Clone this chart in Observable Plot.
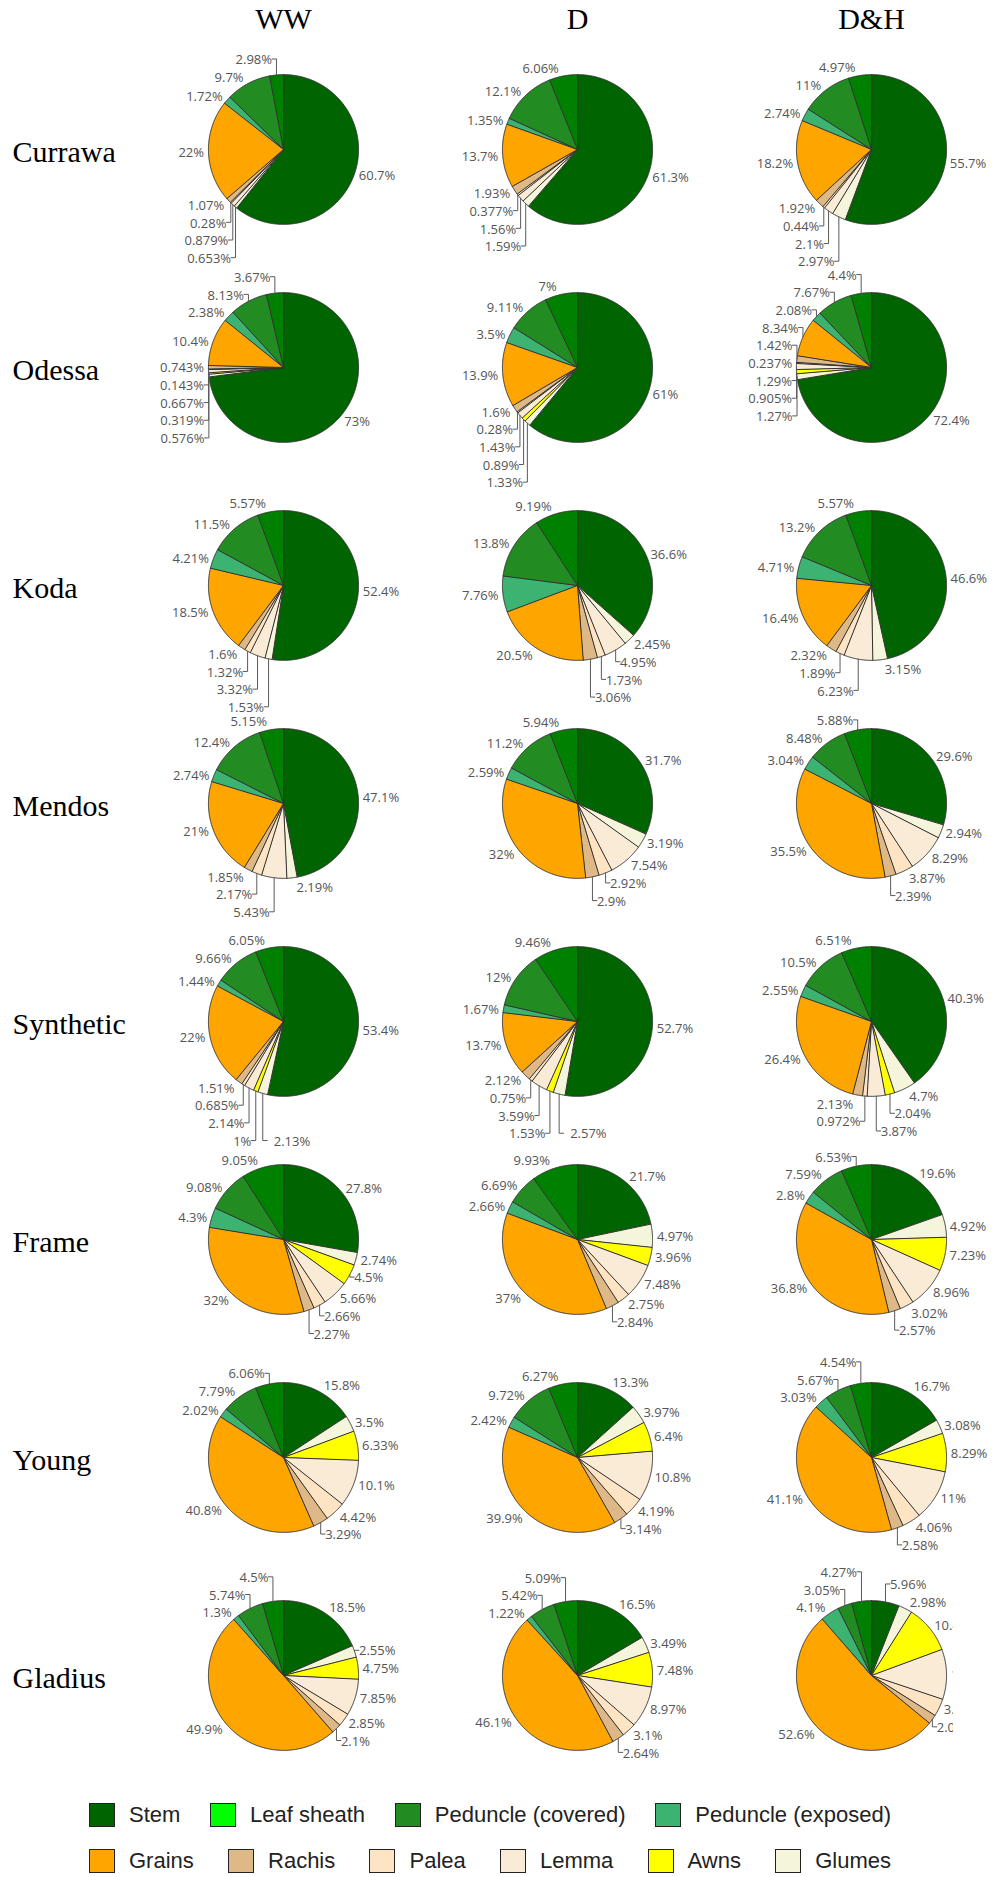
<!DOCTYPE html>
<html>
<head>
<meta charset="utf-8">
<script src="https://cdn.jsdelivr.net/npm/d3@7"></script>
<script src="https://cdn.jsdelivr.net/npm/@observablehq/plot@0.6"></script>
<style>
  body { margin: 0; background: #fff; }
  #chart { width: 993px; }
  .legend { font-family: "Liberation Sans", Arial, sans-serif; font-size: 22px; color: #222; padding-top: 17px; }
  .lrow { display: flex; justify-content: space-between; align-items: center; width: 802px; margin-left: 89px; height: 24px; margin-bottom: 22px; }
  .item { display: flex; align-items: center; white-space: nowrap; }
  .sw { display: inline-block; box-sizing: border-box; width: 26px; height: 24px; border: 1.5px solid #222; margin-right: 14px; }
</style>
</head>
<body>
<div id="chart"></div>
<script>
// ---------- data ----------
const cultivars = ["Currawa", "Odessa", "Koda", "Mendos", "Synthetic", "Frame", "Young", "Gladius"];
const treatments = ["WW", "D", "D&H"];
const parts = ["Stem", "Leaf sheath", "Peduncle (covered)", "Peduncle (exposed)", "Grains", "Rachis", "Palea", "Lemma", "Awns", "Glumes"];
const sliceColors = ["#006400", "#008000", "#228b22", "#3cb371", "#ffa500", "#deb887", "#ffe4c4", "#faebd7", "#ffff00", "#f5f5dc"];
const legendColors = ["#006400", "#00ff00", "#228b22", "#3cb371", "#ffa500", "#deb887", "#ffe4c4", "#faebd7", "#ffff00", "#f5f5dc"];
// clockwise drawing order, starting at 12 o'clock
const sliceOrder = ["Stem", "Glumes", "Awns", "Lemma", "Palea", "Rachis", "Grains", "Peduncle (exposed)", "Peduncle (covered)", "Leaf sheath"];

// percentages in `parts` order; rows: WW, D, D&H
const Currawa = [
  [60.7, 2.98, 9.7, 1.72, 22, 1.07, 0.28, 0.879, 0, 0.653],
  [61.3, 6.06, 12.1, 1.35, 13.7, 1.93, 0.377, 1.56, 0, 1.59],
  [55.7, 4.97, 11, 2.74, 18.2, 1.92, 0.44, 2.1, 0, 2.97]
];
const Odessa = [
  [73, 3.67, 8.13, 2.38, 10.4, 0.743, 0.143, 0.667, 0.319, 0.576],
  [61, 7, 9.11, 3.5, 13.9, 1.6, 0.28, 1.43, 0.89, 1.33],
  [72.4, 4.4, 7.67, 2.08, 8.34, 1.42, 0.237, 1.29, 0.905, 1.27]
];
const Koda = [
  [52.4, 5.57, 11.5, 4.21, 18.5, 1.6, 1.32, 3.32, 0, 1.53],
  [36.6, 9.19, 13.8, 7.76, 20.5, 3.06, 1.73, 4.95, 0, 2.45],
  [46.6, 5.57, 13.2, 4.71, 16.4, 2.32, 1.89, 6.23, 0, 3.15]
];
const Mendos = [
  [47.1, 5.15, 12.4, 2.74, 21, 1.85, 2.17, 5.43, 0, 2.19],
  [31.7, 5.94, 11.2, 2.59, 32, 2.9, 2.92, 7.54, 0, 3.19],
  [29.6, 5.88, 8.48, 3.04, 35.5, 2.39, 3.87, 8.29, 0, 2.94]
];
const Synthetic = [
  [53.4, 6.05, 9.66, 1.44, 22, 1.51, 0.685, 2.14, 1, 2.13],
  [52.7, 9.46, 12, 1.67, 13.7, 2.12, 0.75, 3.59, 1.53, 2.57],
  [40.3, 6.51, 10.5, 2.55, 26.4, 2.13, 0.972, 3.87, 2.04, 4.7]
];
const Frame = [
  [27.8, 9.05, 9.08, 4.3, 32, 2.27, 2.66, 5.66, 4.5, 2.74],
  [21.7, 9.93, 6.69, 2.66, 37, 2.84, 2.75, 7.48, 3.96, 4.97],
  [19.6, 6.53, 7.59, 2.8, 36.8, 2.57, 3.02, 8.96, 7.23, 4.92]
];
const Young = [
  [15.8, 6.06, 7.79, 2.02, 40.8, 3.29, 4.42, 10.1, 6.33, 3.5],
  [13.3, 6.27, 9.72, 2.42, 39.9, 3.14, 4.19, 10.8, 6.4, 3.97],
  [16.7, 4.54, 5.67, 3.03, 41.1, 2.58, 4.06, 11, 8.29, 3.08]
];
const Gladius = [
  [18.5, 4.5, 5.74, 1.3, 49.9, 2.1, 2.85, 7.85, 4.75, 2.55],
  [16.5, 5.09, 5.42, 1.22, 46.1, 2.64, 3.1, 8.97, 7.48, 3.49],
  [5.96, 4.27, 3.05, 4.1, 52.6, 2.03, 3.8, 10.8, 10.4, 2.98]
];
const table = {Currawa, Odessa, Koda, Mendos, Synthetic, Frame, Young, Gladius};
// label placement hints seen in the source
const labelHints = {
  "Synthetic|WW|Glumes": "right",
  "Synthetic|D|Glumes": "right",
  "Odessa|D&H|Lemma": "below"
};
// the last panel of the source image is cropped on its right side
const croppedPanel = {cultivar: "Gladius", treatment: "D&H", right: 953};

// ---------- layout ----------
const W = 993, H = 1786;
const mL = 180, mR = 19, mT = 38.8, mB = 0;
const padX = 0.3;
const stepX = (W - mL - mR) / (treatments.length - padX);
const bandX = stepX * (1 - padX);
const bandY = (H - mT - mB) / cultivars.length;
const R = 75, FS = 13, LH = FS * 1.362;

function draw() {
  const ctx = document.createElement("canvas").getContext("2d");
  ctx.font = `${FS}px "Open Sans"`;

  const slices = [], leaders = [], labels = [], cutLabels = [];

  for (const c of cultivars) treatments.forEach((t, ti) => {
    const vals = table[c][ti];
    const items = sliceOrder.map(p => ({part: p, value: vals[parts.indexOf(p)]})).filter(d => d.value > 0);
    const arcs = d3.pie().sort(null).value(d => d.value)(items);
    const quads = [[[], []], [[], []]];
    const pieLabels = [];
    arcs.forEach(a => {
      const part = a.data.part;
      const key = `${c}|${t}|${part}`;
      const n = Math.max(2, Math.ceil((a.endAngle - a.startAngle) / (Math.PI / 360)));
      slices.push({key, part, cultivar: c, treatment: t, x: 0, y: 0});
      for (let j = 0; j <= n; j++) {
        const ang = a.startAngle + (a.endAngle - a.startAngle) * j / n;
        slices.push({key, part, cultivar: c, treatment: t, x: R * Math.sin(ang), y: -R * Math.cos(ang)});
      }
      const mid = (a.startAngle + a.endAngle) / 2;
      const px = R * Math.sin(mid), py = -R * Math.cos(mid);
      const text = `${a.data.value}%`;
      const w = ctx.measureText(text).width;
      const sx = px < 0 ? -1 : 1, sy = py < 0 ? -1 : 1;
      const tx = px + sx * (w / 2 + LH / 4);
      const ty = py + sy * (LH / 2) / (1 + (px * px) / (py * py));
      const hint = labelHints[key];
      const L = {key, cultivar: c, treatment: t, text, w, px, py, sx, x: tx, yMid: ty, yMin: ty - LH / 2, yMax: ty + LH / 2, extraY: 0, hint};
      const yHalf = hint === "below" ? 1 : (py < 0 ? 0 : 1);
      quads[yHalf][px < 0 ? 0 : 1].push(L);
      pieLabels.push(L);
    });
    // push overlapping outside labels away from the equator
    for (let yHalf = 0; yHalf < 2; yHalf++) {
      const equatorFirst = yHalf ? (a, b) => a.py - b.py : (a, b) => b.py - a.py;
      const yDiffSign = yHalf ? 1 : -1;
      for (let xHalf = 0; xHalf < 2; xHalf++) {
        const q = quads[yHalf][xHalf];
        q.sort(equatorFirst);
        const opp = quads[1 - yHalf][xHalf];
        const firstOpp = yHalf && opp.length ? opp[0] : null;
        for (let i = 0; i < q.length; i++) {
          let prev = i ? q[i - 1] : null;
          if (firstOpp && !i) prev = firstOpp;
          if (!prev) continue;
          const cur = q[i];
          if (cur.hint === "right") {
            // sits beside the previous label, on the other side of its leader
            cur.extraY = prev.yMid + prev.extraY - cur.yMid;
            cur.sx = 1;
            cur.x = cur.px + 11 + cur.w / 2;
            continue;
          }
          const prevOuterY = prev.extraY + (yHalf ? prev.yMax : prev.yMin);
          const thisInnerY = yHalf ? cur.yMin : cur.yMax;
          const newExtra = prevOuterY - thisInnerY;
          if (newExtra * yDiffSign > 0) cur.extraY = newExtra;
        }
      }
    }
    const cut = c === croppedPanel.cultivar && t === croppedPanel.treatment;
    for (const L of pieLabels) {
      const yf = L.yMid + L.extraY;
      (cut ? cutLabels : labels).push({cultivar: c, treatment: t, text: L.text, x: L.x, y: yf});
      if (L.extraY) {
        leaders.push({key: L.key, cultivar: c, treatment: t, x: L.px, y: L.py});
        leaders.push({key: L.key, cultivar: c, treatment: t, x: L.px, y: yf});
        leaders.push({key: L.key, cultivar: c, treatment: t, x: L.px + L.sx * LH / 4, y: yf});
      }
    }
  });

  const textOpts = {x: "x", y: "y", text: "text", fx: "treatment", fy: "cultivar",
    fontSize: FS, fontFamily: "Open Sans", textAnchor: "middle", lineAnchor: "middle", dy: 1};

  const svg = Plot.plot({
    width: W, height: H,
    marginLeft: mL, marginRight: mR, marginTop: mT, marginBottom: mB,
    style: {background: "white", overflow: "visible"},
    fx: {domain: treatments, paddingInner: padX, paddingOuter: 0, label: null},
    fy: {domain: cultivars, paddingInner: 0, paddingOuter: 0, label: null},
    x: {domain: [-bandX / 2, bandX / 2], axis: null},
    y: {domain: [bandY / 2, -bandY / 2], axis: null},
    color: {domain: parts, range: sliceColors},
    marks: [
      Plot.axisFx({anchor: "top", tickSize: 0, tickPadding: 12, fontSize: 30, fontFamily: "Liberation Serif", fill: "#000", label: null}),
      Plot.axisFy({anchor: "left", tickSize: 0, tickPadding: mL - 12, textAnchor: "start", fontSize: 30, fontFamily: "Liberation Serif", fill: "#000", dy: 2.5, label: null}),
      Plot.line(slices, {x: "x", y: "y", z: "key", fill: "part", stroke: "#333", strokeWidth: 1, curve: "linear-closed", fx: "treatment", fy: "cultivar"}),
      Plot.line(leaders, {x: "x", y: "y", z: "key", stroke: "#5a5a5a", strokeWidth: 1, fx: "treatment", fy: "cultivar"}),
      Plot.text(labels, {...textOpts, fill: "#555555"}),
      Plot.text(cutLabels, {...textOpts, fill: "#565656"})
    ]
  });

  const root = document.getElementById("chart");
  root.append(svg);

  // reproduce the cropped right edge of the last panel
  const ns = "http://www.w3.org/2000/svg";
  let defs = svg.querySelector("defs");
  if (!defs) { defs = document.createElementNS(ns, "defs"); svg.prepend(defs); }
  svg.querySelectorAll('g[fill="#565656"] text').forEach((el, i) => {
    const m = el.getCTM();
    if (!m) return;
    const localX = (croppedPanel.right - m.e) / m.a;
    const cp = document.createElementNS(ns, "clipPath");
    cp.setAttribute("id", `cut-${i}`);
    const r = document.createElementNS(ns, "rect");
    r.setAttribute("x", localX - 3000);
    r.setAttribute("y", -3000);
    r.setAttribute("width", 3000);
    r.setAttribute("height", 6000);
    cp.append(r);
    defs.append(cp);
    el.setAttribute("clip-path", `url(#cut-${i})`);
  });

  // legend
  const legend = document.createElement("div");
  legend.className = "legend";
  [[0, 1, 2, 3], [4, 5, 6, 7, 8, 9]].forEach(idx => {
    const row = document.createElement("div");
    row.className = "lrow";
    idx.forEach(i => {
      const item = document.createElement("div");
      item.className = "item";
      const sw = document.createElement("span");
      sw.className = "sw";
      sw.style.background = legendColors[i];
      item.append(sw, document.createTextNode(parts[i]));
      row.append(item);
    });
    legend.append(row);
  });
  root.append(legend);
}

if (document.fonts && document.fonts.load) {
  document.fonts.load(`${FS}px "Open Sans"`).then(draw, draw);
} else draw();
</script>
</body>
</html>
